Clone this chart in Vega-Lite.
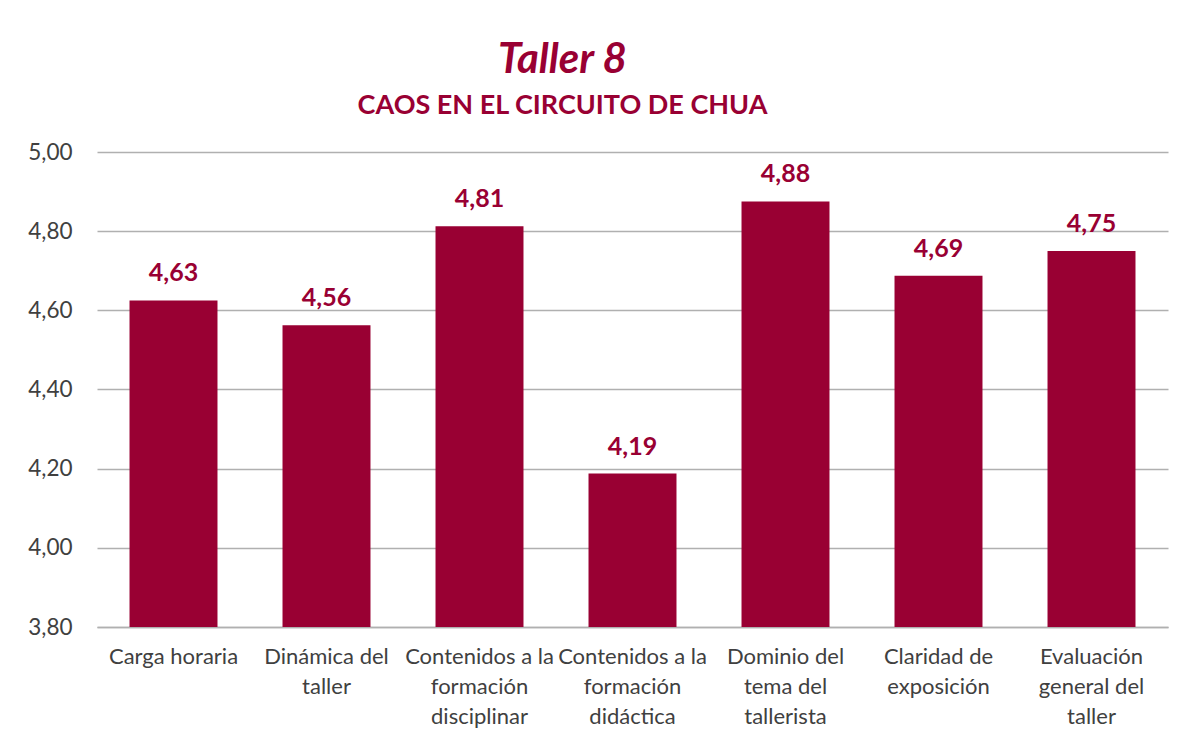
{
  "$schema": "https://vega.github.io/schema/vega-lite/v6.json",
  "width": 1071,
  "height": 475,
  "autosize": {"type": "none"},
  "padding": {"left": 97, "top": 152, "right": 28, "bottom": 115},
  "background": "white",
  "title": {
    "text": "Taller 8",
    "subtitle": "CAOS EN EL CIRCUITO DE CHUA",
    "anchor": "middle",
    "frame": "group",
    "dx": -70,
    "offset": 21,
    "font": "Lato",
    "fontSize": 42,
    "fontWeight": "bold",
    "fontStyle": "italic",
    "color": "#990033",
    "subtitleFont": "Lato",
    "subtitleFontSize": 27,
    "subtitleFontWeight": "bold",
    "subtitleColor": "#990033",
    "subtitlePadding": 11
  },
  "config": {
    "view": {"stroke": null},
    "locale": {
      "number": {"decimal": ",", "thousands": ".", "grouping": [3], "currency": ["", " €"]}
    }
  },
  "data": {
    "values": [
      {"aspecto": "Carga horaria", "valor": 4.625},
      {"aspecto": "Dinámica del taller", "valor": 4.5625},
      {"aspecto": "Contenidos a la formación disciplinar", "valor": 4.8125},
      {"aspecto": "Contenidos a la formación didáctica", "valor": 4.1875},
      {"aspecto": "Dominio del tema del tallerista", "valor": 4.875},
      {"aspecto": "Claridad de exposición", "valor": 4.6875},
      {"aspecto": "Evaluación general del taller", "valor": 4.75}
    ]
  },
  "encoding": {
    "x": {
      "field": "aspecto",
      "type": "nominal",
      "sort": null,
      "scale": {"paddingInner": 0.425, "paddingOuter": 0.2125},
      "axis": {
        "title": null,
        "labelAngle": 0,
        "labelFont": "Lato",
        "labelFontSize": 22,
        "labelColor": "#404040",
        "labelLineHeight": 30,
        "labelPadding": 19,
        "labelLimit": 200,
        "ticks": false,
        "domainColor": "#b0b0b0",
        "domainWidth": 1.5,
        "labelExpr": "{'Carga horaria': ['Carga horaria'], 'Dinámica del taller': ['Dinámica del', 'taller'], 'Contenidos a la formación disciplinar': ['Contenidos a la', 'formación', 'disciplinar'], 'Contenidos a la formación didáctica': ['Contenidos a la', 'formación', 'didáctica'], 'Dominio del tema del tallerista': ['Dominio del', 'tema del', 'tallerista'], 'Claridad de exposición': ['Claridad de', 'exposición'], 'Evaluación general del taller': ['Evaluación', 'general del', 'taller']}[datum.value]"
      }
    },
    "y": {
      "field": "valor",
      "type": "quantitative",
      "scale": {"domain": [3.8, 5.0], "nice": false, "zero": false},
      "axis": {
        "title": null,
        "values": [3.8, 4.0, 4.2, 4.4, 4.6, 4.8, 5.0],
        "format": ".2f",
        "labelFont": "Lato",
        "labelFontSize": 22.5,
        "labelColor": "#404040",
        "labelPadding": 25,
        "ticks": false,
        "domain": false,
        "gridColor": "#b0b0b0",
        "gridWidth": 1.5
      }
    }
  },
  "layer": [
    {"mark": {"type": "bar", "color": "#990033", "clip": true}},
    {
      "mark": {
        "type": "text",
        "baseline": "alphabetic",
        "dy": -19,
        "font": "Lato",
        "fontSize": 25,
        "fontWeight": "bold",
        "color": "#990033"
      },
      "encoding": {
        "text": {"field": "valor", "type": "quantitative", "format": ".2f"}
      }
    }
  ]
}
